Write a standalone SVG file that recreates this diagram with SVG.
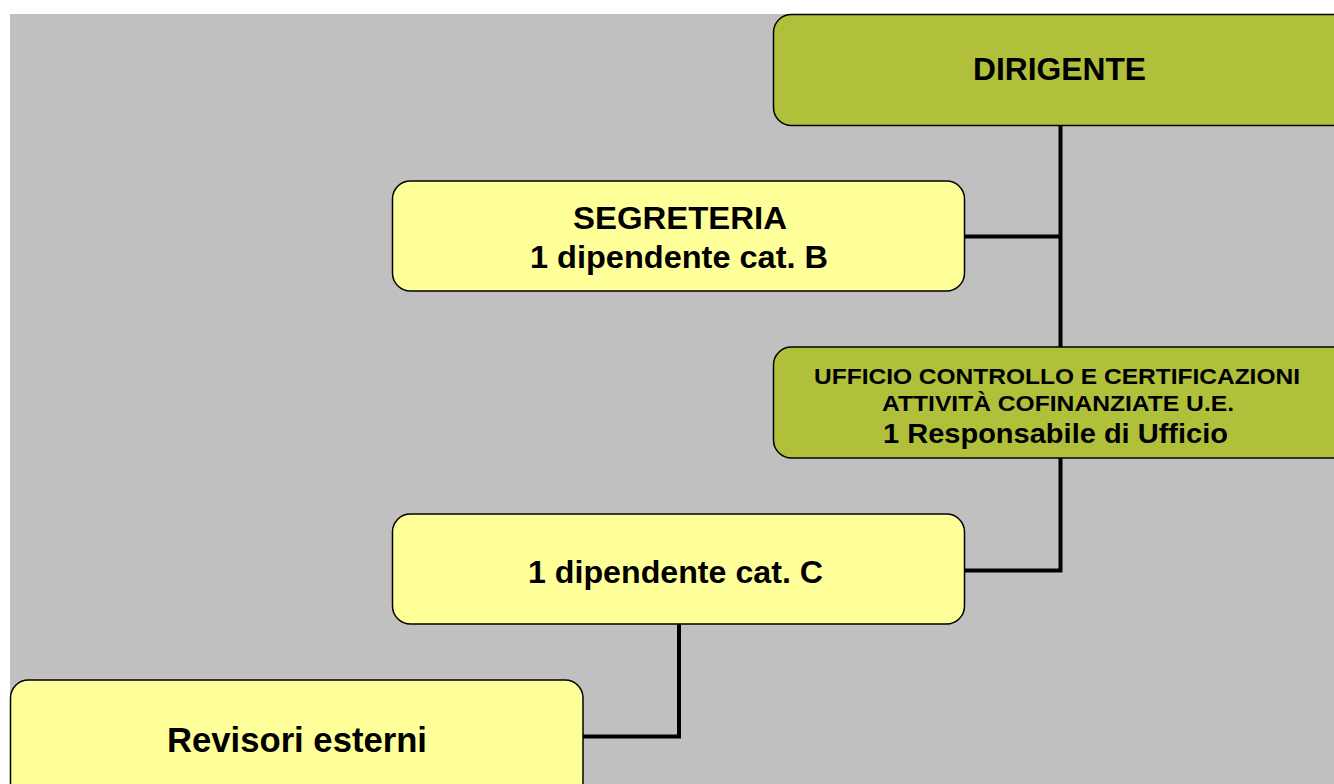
<svg xmlns="http://www.w3.org/2000/svg" width="1334" height="784" viewBox="0 0 1334 784">
<defs>
<style>
.bg{fill:#C0C0C0}
.box{stroke:#000;stroke-width:1.5}
.green{fill:#B0C03B}
.yellow{fill:#FFFF99}
.conn{fill:none;stroke:#000;stroke-width:4}
text{font-family:"Liberation Sans",Arial,sans-serif;font-weight:bold;fill:#000;text-anchor:middle}
</style>
</defs>
<rect class="bg" x="10" y="14" width="1330" height="780"/>
<g id="connectors">
<path class="conn" d="M1060.5 125 V570.5 H964"/>
<path class="conn" d="M964 236.5 H1060.5"/>
<path class="conn" d="M679 624 V736.5 H583"/>
</g>
<g id="dirigente">
<rect class="box green" x="773.5" y="14.5" width="580" height="111" rx="18"/>
<text x="1059.5" y="79.5" font-size="31.5" textLength="173" lengthAdjust="spacingAndGlyphs">DIRIGENTE</text>
</g>
<g id="segreteria">
<rect class="box yellow" x="392.5" y="181" width="572" height="110" rx="18"/>
<text x="680" y="228.5" font-size="31" textLength="214" lengthAdjust="spacingAndGlyphs">SEGRETERIA</text>
<text x="679" y="267.5" font-size="31.5" textLength="298" lengthAdjust="spacingAndGlyphs">1 dipendente cat. B</text>
</g>
<g id="ufficio">
<rect class="box green" x="773.5" y="347" width="580" height="111" rx="18"/>
<text x="1057" y="383.5" font-size="22" textLength="486" lengthAdjust="spacingAndGlyphs">UFFICIO CONTROLLO E CERTIFICAZIONI</text>
<text x="1058" y="410.5" font-size="22" textLength="352" lengthAdjust="spacingAndGlyphs">ATTIVITÀ COFINANZIATE U.E.</text>
<text x="1055.5" y="442.5" font-size="27.5" textLength="345" lengthAdjust="spacingAndGlyphs">1 Responsabile di Ufficio</text>
</g>
<g id="dipendente-c">
<rect class="box yellow" x="392.5" y="514" width="572" height="110" rx="18"/>
<text x="675.5" y="582.5" font-size="31.5" textLength="295" lengthAdjust="spacingAndGlyphs">1 dipendente cat. C</text>
</g>
<g id="revisori">
<rect class="box yellow" x="10.5" y="680" width="572.5" height="120" rx="18"/>
<text x="297" y="751.5" font-size="35.5" textLength="260" lengthAdjust="spacingAndGlyphs">Revisori esterni</text>
</g>
</svg>
